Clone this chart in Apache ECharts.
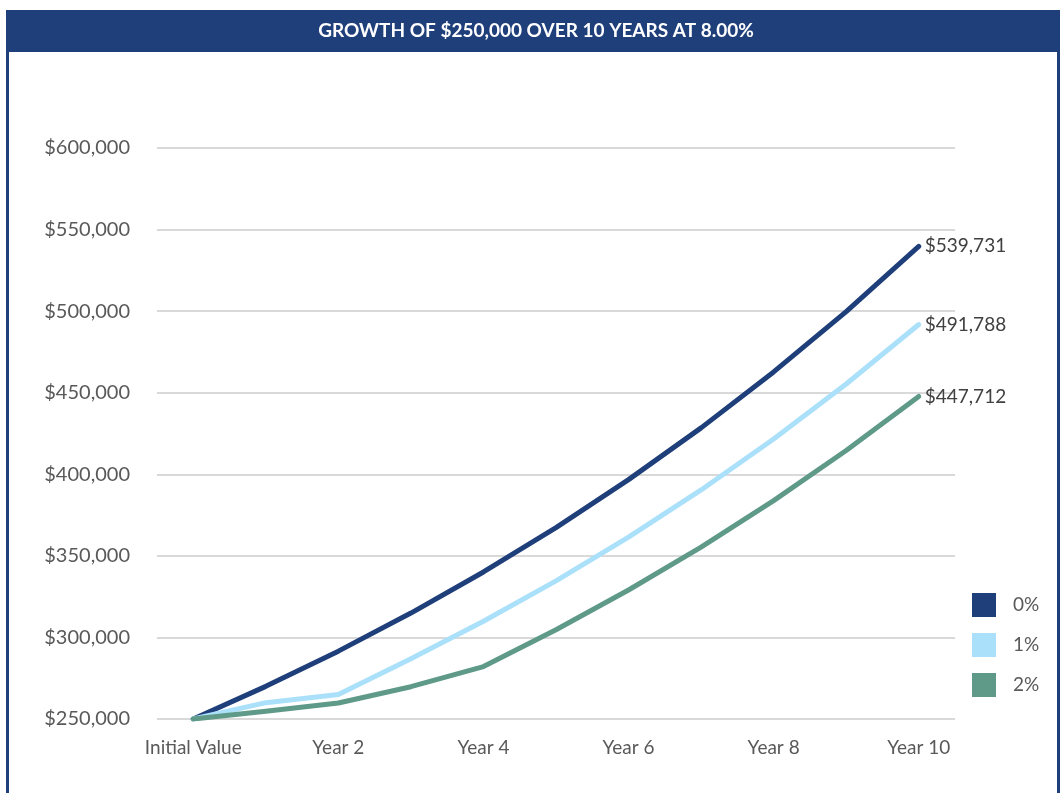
<!DOCTYPE html>
<html>
<head>
<meta charset="utf-8">
<style>
  html, body { margin: 0; padding: 0; background: #fff; }
  #main { width: 1063px; height: 793px; }
</style>
<script src="https://cdn.jsdelivr.net/npm/echarts@6/dist/echarts.min.js"></script>
</head>
<body>
<div id="main"></div>
<script>
// categories and series
var categories = ["Initial Value", "Year 1", "Year 2", "Year 3", "Year 4", "Year 5",
  "Year 6", "Year 7", "Year 8", "Year 9", "Year 10"];
var fee0 = [250000, 270000, 291600, 314928, 340122, 367332, 396718, 428456, 462732, 499751, 539731];
var fee1 = [250000, 260000, 265000, 287000, 309912, 334705, 361481, 390400, 421632, 455362, 491788];
var fee2 = [250000, 254800, 259800, 269800, 282136, 304707, 329083, 355410, 383843, 414550, 447712];
var seriesNames = ["0%", "1%", "2%"];
var titleText = "GROWTH OF $250,000 OVER 10 YEARS AT 8.00%";

var navy = "#1F3F7A";
var colors = [navy, "#ABE0FA", "#5F9A88"];
var font = "Lato";

function money(v) {
  return "$" + Math.round(v).toLocaleString("en-US");
}

var chart = echarts.init(document.getElementById("main"));

var lines = [fee0, fee1, fee2].map(function (d, i) {
  return {
    name: seriesNames[i],
    type: "line",
    data: d,
    symbol: "none",
    color: colors[i],
    lineStyle: { width: 5, color: colors[i], cap: "round", join: "round" },
    endLabel: {
      show: true,
      formatter: function (p) { return money(p.value); },
      color: "#404040",
      fontFamily: font,
      fontSize: 19,
      distance: 6,
    },
    emphasis: { disabled: true },
  };
});

var option = {
  animation: false,
  backgroundColor: "#fff",
  graphic: [
    { type: "rect", shape: { x: 6, y: 10, width: 1054, height: 42 }, style: { fill: navy } },
    { type: "rect", shape: { x: 6, y: 10, width: 3, height: 783 }, style: { fill: navy } },
    { type: "rect", shape: { x: 1057, y: 10, width: 3, height: 783 }, style: { fill: navy } },
    {
      type: "text",
      x: 536,
      y: 31,
      style: {
        text: titleText,
        fill: "#fff",
        font: "bold 19px " + font,
        textAlign: "center",
        textVerticalAlign: "middle",
      },
    },
  ],
  legend: {
    orient: "vertical",
    left: 972,
    top: 593,
    padding: 0,
    itemWidth: 24,
    itemHeight: 24,
    itemGap: 16,
    icon: "rect",
    data: seriesNames,
    textStyle: { color: "#595959", fontFamily: font, fontSize: 19, padding: [0, 0, 0, 12] },
  },
  grid: { left: 157, right: 108, top: 148, bottom: 74 },
  xAxis: {
    type: "category",
    data: categories,
    boundaryGap: true,
    axisLine: { show: false },
    axisTick: { show: false },
    axisLabel: {
      interval: 1,
      margin: 19,
      color: "#595959",
      fontFamily: font,
      fontSize: 19,
    },
  },
  yAxis: {
    type: "value",
    min: 250000,
    max: 600000,
    interval: 50000,
    axisLine: { show: false },
    axisTick: { show: false },
    splitLine: { lineStyle: { color: "#D9D9D9", width: 2 } },
    axisLabel: {
      margin: 27,
      color: "#595959",
      fontFamily: font,
      fontSize: 20,
      formatter: money,
    },
  },
  series: lines,
};

chart.setOption(option);
</script>
</body>
</html>
